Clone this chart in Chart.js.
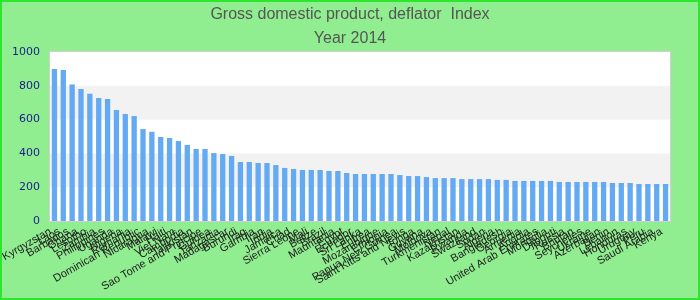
<!DOCTYPE html>
<html>
<head>
<meta charset="utf-8">
<script src="https://cdn.jsdelivr.net/npm/chart.js@4"></script>
<style>
	body { margin: 0; }
	#wrap { width: 700px; height: 300px; box-sizing: border-box; border: 2px solid #2ee62e; background: #90ee90; }
</style>
</head>
<body>
<div id="wrap"><canvas id="Chart" width="696" height="296"></canvas></div>
<script>
// 国名（値の大きい順）
const countries = ['Kyrgyzstan', 'Laos', 'Barbados', 'Ghana', 'Lesotho', 'Zambia', 'Philippines', 'Uganda', 'Nigeria', 'Romania',
	'Dominican Republic', 'Nicaragua', 'Malawi', 'Haiti', 'Viet Nam', 'Cambodia', 'Tajikistan', 'Sao Tome and Principe', 'Guinea', 'Tanzania',
	'Madagascar', 'Burundi', 'Iraq', 'Gambia', 'Iran', 'India', 'Jamaica', 'Chad', 'Sierra Leone', 'Mali',
	'Belize', 'Brazil', 'Mauritania', 'Egypt', 'Ecuador', 'Sri Lanka', 'Eritrea', 'Mozambique', 'Ethiopia', 'Papua New Guinea',
	'Saint Kitts and Nevis', 'Tonga', 'Guyana', 'Moldova', 'Turkmenistan', 'Nepal', 'Kazakhstan', 'Rwanda', 'Swaziland', 'Sudan',
	'Algeria', 'Bangladesh', 'Georgia', 'Armenia', 'Angola', 'United Arab Emirates', 'Mongolia', 'Djibouti', 'Russia', 'Bhutan',
	'Seychelles', 'Ukraine', 'Azerbaijan', 'Benin', 'Lebanon', 'Honduras', 'Uruguay', 'Peru', 'Saudi Arabia', 'Kenya'];

// 2014年の値
const deflator = [899, 893, 807, 781, 753, 728, 722, 657, 633, 621,
	544, 528, 497, 491, 473, 450, 426, 426, 402, 396,
	385, 349, 349, 343, 343, 331, 314, 308, 302, 302,
	302, 296, 296, 284, 278, 278, 278, 278, 278, 272,
	266, 266, 260, 254, 254, 254, 248, 248, 248, 248,
	243, 243, 237, 237, 237, 237, 237, 231, 231, 231,
	231, 231, 231, 225, 225, 225, 219, 219, 219, 219];

// Y軸の目盛り
const yTicks = [0, 200, 400, 600, 800, 1000];

// 背景の縞模様と枠線
const bandPlugin = {
	id: 'bands',
	beforeDatasetsDraw(chart) {
		const ctx = chart.ctx;
		const area = chart.chartArea;
		const y = chart.scales.y;
		ctx.save();
		ctx.fillStyle = '#ffffff';
		ctx.fillRect(area.left, area.top, area.right - area.left, area.bottom - area.top);
		for (let i = 0; i < yTicks.length - 1; i++) {
			if (i % 2 == 1) {
				const top = y.getPixelForValue(yTicks[i + 1]);
				const bottom = y.getPixelForValue(yTicks[i]);
				ctx.fillStyle = '#f2f2f2';
				ctx.fillRect(area.left, top, area.right - area.left, bottom - top);
			}
		}
		ctx.strokeStyle = '#d0d0d0';
		ctx.lineWidth = 1;
		ctx.strokeRect(area.left - 0.5, area.top - 0.5, area.right - area.left + 1, area.bottom - area.top + 1);
		ctx.restore();
	}
};

let barCtx = document.getElementById('Chart');
let barConfig = {
	type: 'bar',
	data: {
		labels: countries,
		datasets: [{
			label: 'Deflator',
			data: deflator,
			backgroundColor: '#63aaf2',
			barPercentage: 0.6,
			categoryPercentage: 1.0,
		}],
	},
	options: {
		responsive: false,
		animation: false,
		layout: { padding: { left: 6, right: 6, top: 0, bottom: 0 } },
		plugins: {
			legend: { display: false },
			tooltip: { enabled: false },
			title: {
				display: true,
				text: ['Gross domestic product, deflator  Index', 'Year 2014'],
				color: '#555555',
				font: { family: 'Liberation Sans', size: 16, weight: 'normal', lineHeight: 1.5 },
				padding: { top: 1, bottom: 1 },
			},
		},
		scales: {
			x: {
				grid: { display: false },
				border: { display: false },
				ticks: {
					autoSkip: false,
					minRotation: 30,
					maxRotation: 30,
					color: '#222222',
					font: { family: 'Liberation Sans', size: 11 },
					padding: -4,
					labelOffset: -4,
				},
				afterFit(scale) { scale.height = 77; },
			},
			y: {
				min: 0,
				max: 1000,
				grid: { display: false },
				border: { display: false },
				ticks: {
					stepSize: 200,
					color: '#1c1c8c',
					font: { family: 'DejaVu Sans', size: 11 },
					padding: 2,
					callback: (v) => String(v),
				},
				afterFit(scale) { scale.width = 42; },
			},
			// 右側の余白用（表示なし）
			y2: {
				position: 'right',
				grid: { display: false },
				border: { display: false },
				ticks: { display: false },
				afterFit(scale) { scale.width = 22; },
			},
		},
	},
	plugins: [bandPlugin],
};
let barChart = new Chart(barCtx, barConfig);
</script>
</body>
</html>
